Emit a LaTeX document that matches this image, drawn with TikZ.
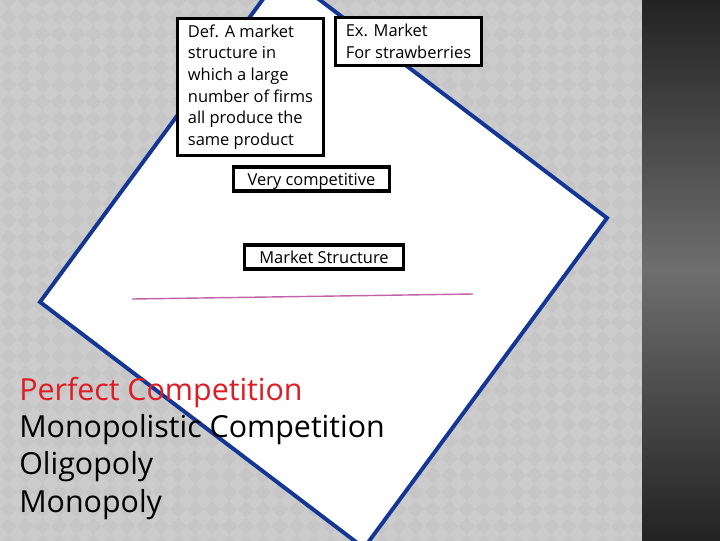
\documentclass[tikz,border=0pt]{standalone}
\usepackage{fontspec}
\setmainfont{Open Sans}
\usepackage{xcolor}
\definecolor{slidegrey}{RGB}{198,198,198}
\definecolor{tilegrey}{RGB}{204,204,204}
\definecolor{stripdark}{RGB}{32,32,32}
\definecolor{stripmid}{RGB}{110,110,110}
\definecolor{edgeblue}{RGB}{20,55,150}
\definecolor{rulepink}{RGB}{196,98,168}
\definecolor{listred}{RGB}{222,28,36}

\begin{document}
\begin{tikzpicture}[x=0.025cm, y=-0.025cm,
  infobox/.style={draw=black, line width=2.4pt, fill=white, align=left,
    inner xsep=4pt, inner ysep=1pt, font=\fontsize{11.7}{15.4}\selectfont},
  onelinebox/.style={infobox, minimum height=0.6cm, text height=10.6pt, text depth=1.2pt},
  listitem/.style={anchor=base west, inner sep=0pt, font=\fontsize{21.6}{26.6}\selectfont}]
  \useasboundingbox (0,0) rectangle (720,540);
  \clip (0,0) rectangle (720,540);
  % slide background with diamond tiles
  \fill[slidegrey] (-10,-10) rectangle (650,550);
  \begin{scope}
    \clip (-10,-10) rectangle (642,550);
    \fill[tilegrey, even odd rule, rotate=45]
      foreach \k in {-40,...,40} {
        (\k*24, -1000) rectangle (\k*24+12, 1000)
        (-1000, \k*24) rectangle (1000, \k*24+12)
      };
  \end{scope}
  \shade[top color=stripdark, bottom color=stripdark, middle color=stripmid] (642,-10) rectangle (730,550);
  % the diamond
  \filldraw[fill=white, draw=edgeblue, line width=2.8pt, line join=miter]
    (40,302) -- (283,-28) -- (607,218) -- (364,548) -- cycle;
  \draw[rulepink, line width=1pt] (132,299) -- (473,294);
  % boxes
  \node[infobox, minimum width=3.65cm, minimum height=3.425cm] (def) at (250.5,87)
    {Def. A market\\ structure in\\ which a large\\ number of firms\\ all produce the\\ same product};
  \node[infobox, minimum width=3.65cm, minimum height=1.2cm] (example) at (408.5,41.5)
    {Ex. Market\\ For strawberries};
  \node[onelinebox, minimum width=3.9cm] (competitive) at (311.5,179) {Very competitive};
  \node[onelinebox, minimum width=3.975cm] (structure) at (324,257) {Market Structure};
  % list of structures
  \node[listitem, text=listred] (perfect) at (19,400) {Perfect Competition};
  \node[listitem] (monopolistic) at (19,437.5) {Monopolistic Competition};
  \node[listitem] (oligopoly) at (19,474.5) {Oligopoly};
  \node[listitem] (monopoly) at (19,512) {Monopoly};
\end{tikzpicture}
\end{document}
